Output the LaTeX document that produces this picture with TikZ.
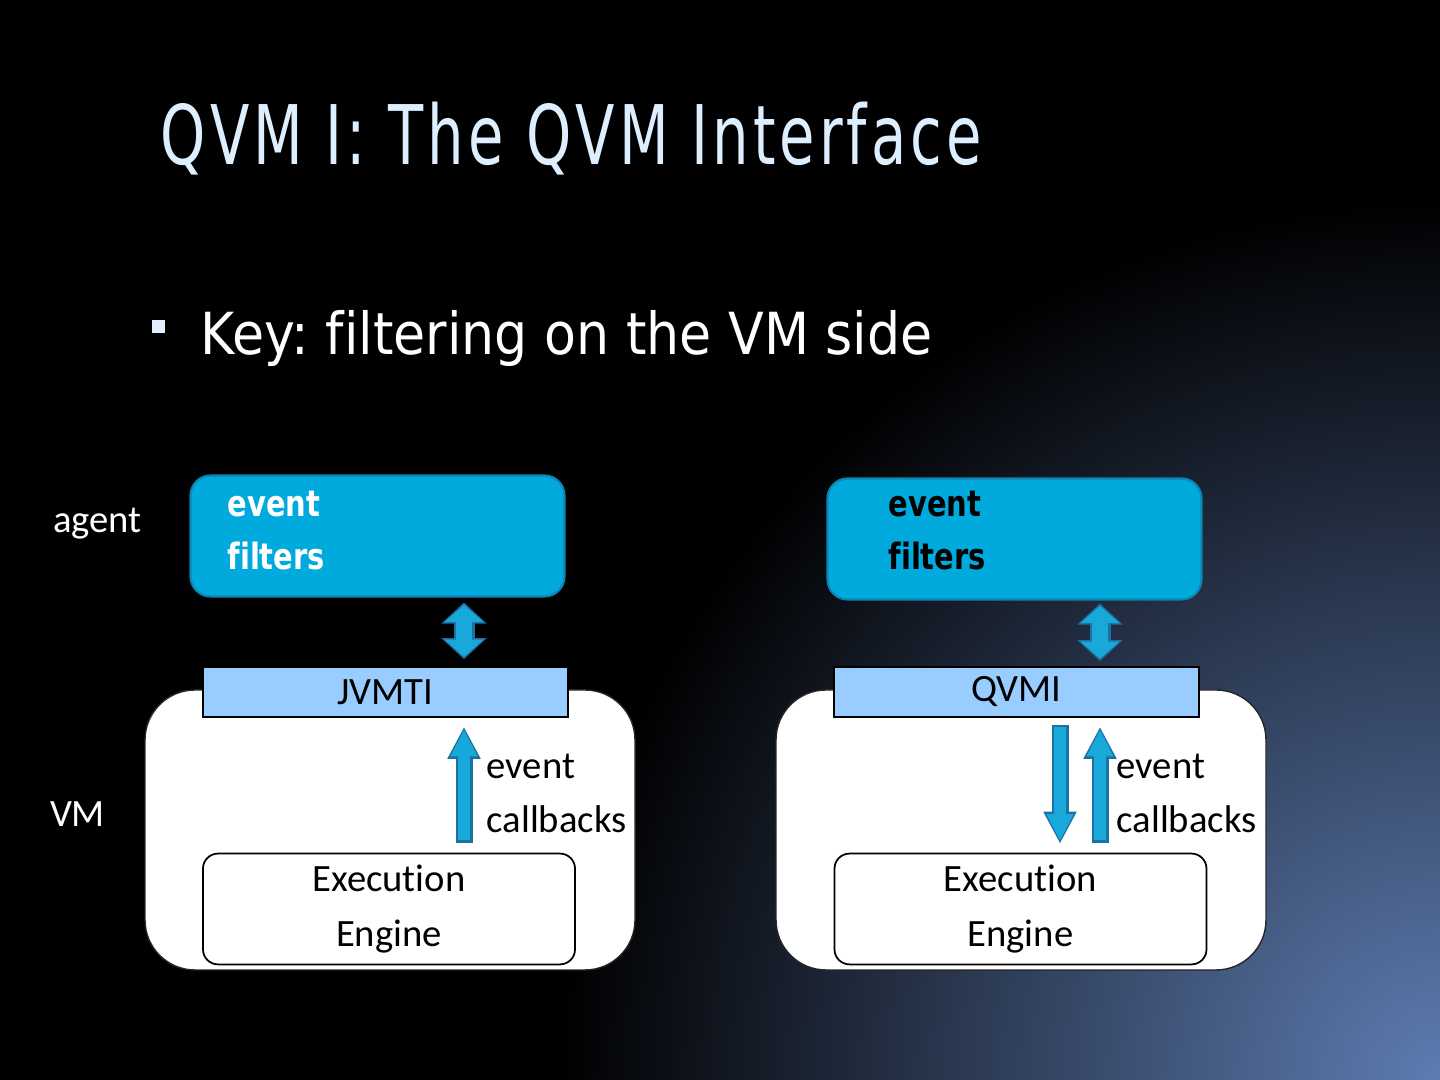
\documentclass[tikz,border=0pt]{standalone}
\usepackage{fontspec}
\setmainfont[Ligatures=NoCommon]{Carlito}
\newfontfamily\titlefont[FakeStretch=0.7,LetterSpace=5,Ligatures=NoCommon]{DejaVu Sans}
\newfontfamily\keyfont[FakeStretch=0.9,Ligatures=NoCommon]{DejaVu Sans}
\newfontfamily\filtfont[FakeStretch=0.8,Ligatures=NoCommon]{DejaVu Sans}
\usetikzlibrary{arrows.meta, positioning, calc}
\frenchspacing
\definecolor{titleblue}{HTML}{DDEEFF}
\definecolor{bgcorner}{HTML}{5E7CB2}
\definecolor{filtfill}{HTML}{00AADC}
\definecolor{filtedge}{HTML}{0B86B4}
\definecolor{barfill}{HTML}{99CCFF}
\definecolor{arrfill}{HTML}{19A8DA}
\definecolor{arredge}{HTML}{1A72A2}
\tikzset{
    filtbox/.style={rectangle, rounded corners=0.2cm, draw=filtedge, line width=0.6pt, fill=filtfill,
        minimum width=3.74cm, minimum height=1.21cm, align=left,
        font=\filtfont\bfseries\fontsize{10.3}{15}\selectfont},
    barbox/.style={rectangle, draw=black, line width=0.5pt, fill=barfill, inner sep=0pt,
        minimum width=3.65cm, minimum height=0.5cm, font=\fontsize{11}{13}\selectfont},
    vmbox/.style={rectangle, rounded corners=0.5cm, draw=black!85, line width=0.4pt, fill=white,
        minimum width=4.9cm, minimum height=2.8cm},
    engbox/.style={rectangle, rounded corners=0.15cm, draw=black, line width=0.5pt, fill=white,
        minimum width=3.72cm, minimum height=1.04cm, align=center, font=\fontsize{11}{15.4}\selectfont},
    sidelabel/.style={anchor=base, text=white, inner sep=0pt, font=\fontsize{11}{13}\selectfont},
    cblabel/.style={anchor=west, align=left, inner sep=0pt, font=\fontsize{11}{15.4}\selectfont},
    fatarrow/.style 2 args={
        preaction={draw=arredge, line width=0.17cm, shorten <=#1, shorten >=#2,
            -{Triangle[length=0.32cm, width=0.31cm]}},
        draw=arrfill, line width=0.12cm, shorten <=#1+0.025cm, shorten >=#2+0.025cm,
        -{Triangle[length=0.27cm, width=0.25cm]}},
    fatdouble/.style 2 args={
        preaction={draw=arredge, line width=0.21cm, shorten <=#1, shorten >=#2,
            {Triangle[length=0.21cm, width=0.44cm]}-{Triangle[length=0.21cm, width=0.44cm]}},
        draw=arrfill, line width=0.16cm, shorten <=#1+0.025cm, shorten >=#2+0.025cm,
        {Triangle[length=0.17cm, width=0.38cm]}-{Triangle[length=0.17cm, width=0.38cm]}},
}
\begin{document}
\begin{tikzpicture}
    \useasboundingbox (0,0) rectangle (14.4,10.8);
    % background
    \fill[black] (0,0) rectangle (14.4,10.8);
    \begin{scope}
        \clip (0,0) rectangle (14.4,10.8);
        \shade[inner color=bgcorner, outer color=black] (14.4,0) circle (8.8cm);
    \end{scope}

    % title and bullet
    \node[anchor=base west, inner sep=0pt, text=titleblue,
        font=\titlefont\fontsize{23.4}{28}\selectfont] (title) at (1.60,9.15) {QVM I: The QVM Interface};
    \node[fill=titleblue!90, minimum size=0.13cm, inner sep=0pt] (bullet) at (1.585,7.535) {};
    \node[anchor=base west, inner sep=0pt, text=white,
        font=\keyfont\fontsize{16.5}{20}\selectfont] (key) at (2.00,7.25) {Key: filtering on the VM side};

    % row labels
    \node[sidelabel] (agentlbl) at (0.975,5.47) {agent};
    \node[sidelabel] (vmlbl) at (0.775,2.53) {VM};

    % left: JVMTI
    \node[vmbox] (vmL) at (3.90,2.50) {};
    \node[barbox] (barL) at (3.855,3.88) {JVMTI};
    \node[engbox] (engL) at (3.89,1.71) {Execution\\Engine};
    \node[filtbox, text=white, inner xsep=0.37cm, text width=3.0cm, text depth=0.64cm] (filtL) at (3.775,5.44) {event\\filters};
    \node[cblabel] (cbL) at (4.86,2.87) {event\\callbacks};
    \coordinate (axL) at (4.64,0);
    \draw[fatdouble={0.05cm}{0.07cm}] (filtL.south -| axL) -- (barL.north -| axL);
    \draw[fatarrow={0.10cm}{0.09cm}] (engL.north -| axL) -- (barL.south -| axL);

    % right: QVMI
    \node[vmbox] (vmR) at (10.21,2.50) {};
    \node[barbox] (barR) at (10.165,3.88) {QVMI};
    \node[engbox] (engR) at (10.205,1.71) {Execution\\Engine};
    \node[filtbox, text=black, inner xsep=0.61cm, text width=2.52cm, text depth=0.70cm] (filtR) at (10.145,5.41) {event\\filters};
    \node[cblabel] (cbR) at (11.16,2.87) {event\\callbacks};
    \coordinate (axR) at (11.00,0);
    \coordinate (axRd) at (10.60,0);
    \draw[fatdouble={0.03cm}{0.05cm}] (filtR.south -| axR) -- (barR.north -| axR);
    \draw[fatarrow={0.10cm}{0.09cm}] (engR.north -| axR) -- (barR.south -| axR);
    \draw[fatarrow={0.07cm}{0.09cm}] (barR.south -| axRd) -- (engR.north -| axRd);
\end{tikzpicture}
\end{document}
